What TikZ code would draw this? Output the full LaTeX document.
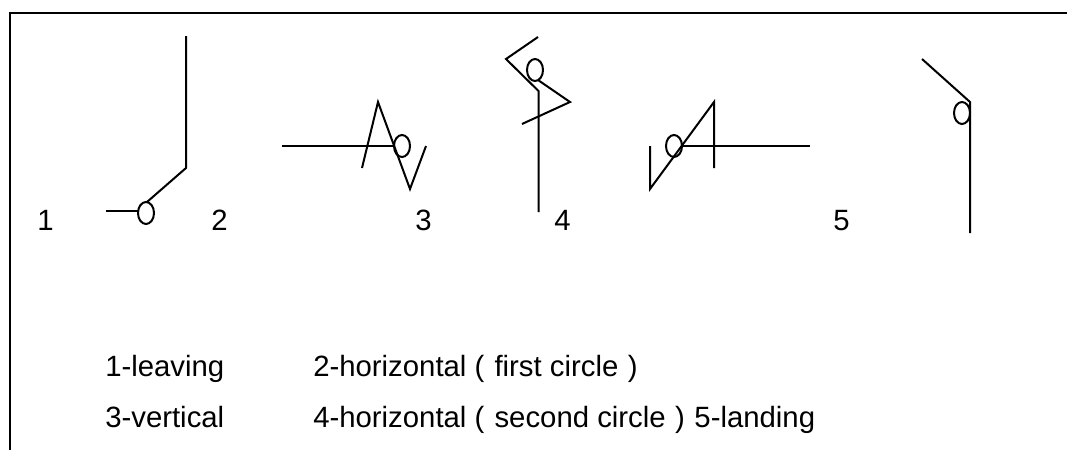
\documentclass[tikz,border=0pt]{standalone}
\usepackage{fontspec}
\setmainfont{Liberation Sans}
\usepackage{xcolor}
\tikzset{
    limb/.style={black, line width=1.5pt, line join=miter},
    label/.style={anchor=base west, inner sep=0pt, font=\fontsize{22}{26}\selectfont}
}

\begin{document}
\begin{tikzpicture}[x=0.75pt, y=-0.75pt]
        \useasboundingbox (0,0) rectangle (1067,450);
        \draw[black, line width=1.5pt] (1067,13) -- (10,13) -- (10,450);
        % leaving
        \draw[limb] (106,211) -- (138,211);
        \draw[limb] (147,202) -- (186,168) -- (186,36);
        \draw[limb] (146,213) ellipse (8 and 11);
        % first circle
        \draw[limb] (282,146) -- (394,146);
        \draw[limb] (362,168) -- (378,102) -- (410,189) -- (426,146);
        \draw[limb] (402,146) ellipse (8 and 11);
        % vertical
        \draw[limb] (538.5,212) -- (538.5,91) -- (506,59) -- (538,37);
        \draw[limb] (538,80) -- (570,102) -- (522,124);
        \draw[limb] (535,70) ellipse (8 and 11);
        % second circle
        \draw[limb] (650,146) -- (650,189) -- (714,102) -- (714,168);
        \draw[limb] (682,146) -- (810,146);
        \draw[limb] (674,146) ellipse (8 and 11);
        % landing
        \draw[limb] (922,59) -- (970,102) -- (970,233);
        \draw[limb] (962,113) ellipse (8 and 11);
        % numbers
        \node[label] (num1) at (37,230) {1};
        \node[label] (num2) at (211,230) {2};
        \node[label] (num3) at (415,230) {3};
        \node[label] (num4) at (554,230) {4};
        \node[label] (num5) at (833,230) {5};
        % legend
        \node[label] (leaving) at (105,376) {1-leaving};
        \node[label] (first) at (313,376) {2-horizontal (\hspace{1.5pt} first circle \hspace{1pt})};
        \node[label] (vertical) at (105,427) {3-vertical};
        \node[label] (second) at (313,427) {4-horizontal (\hspace{1.5pt} second circle \hspace{1pt}) \hspace{1pt}5-landing};
    \end{tikzpicture}
\end{document}
